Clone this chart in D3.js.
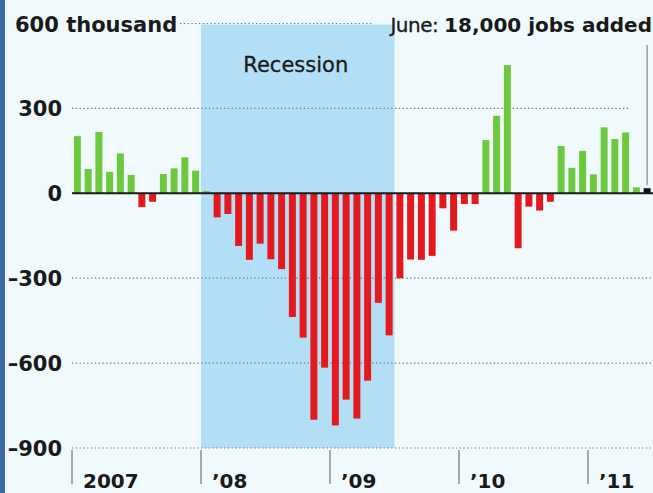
<!DOCTYPE html>
<html lang="en">
<head>
<meta charset="utf-8">
<title>Monthly job changes</title>
<script src="https://d3js.org/d3.v7.min.js"></script>
<style>
  body { margin: 0; background: #f0f9fc; }
  text { font-family: 'DejaVu Sans', sans-serif; fill: #1a1a1a; }
  .lbl { font-size: 21px; font-weight: bold; }
</style>
</head>
<body>
<div id="chart"></div>
<script>

// monthly change in payrolls, thousands, Jan 2007 - Jun 2011
var changes = [
  202, 86, 217, 76, 141, 65, -49, -30, 68, 88, 127, 80,          // 2007
  8, -85, -73, -186, -235, -178, -233, -268, -437, -510, -800, -616, // 2008
  -820, -729, -796, -662, -387, -502, -300, -234, -235, -221, -53, -132, // 2009
  -38, -38, 188, 274, 453, -194, -47, -61, -30, 167, 90, 150,    // 2010
  67, 233, 192, 215, 21, 18                                       // 2011
];
var yTicks = [600, 300, 0, -300, -600, -900];
var yearLabels = ["2007", "\u201908", "\u201909", "\u201910", "\u201911"];
var recession = ["2008-01", "2009-06"];
var highlight = "2011-06";

var fmt = d3.timeFormat("%Y-%m");
var months = d3.timeMonths(new Date(2007, 0, 1), new Date(2011, 6, 1)).map(fmt);

var w = 653, h = 493;

var svg = d3.select("#chart").append("svg")
  .attr("width", w)
  .attr("height", h);

svg.append("rect").attr("width", w).attr("height", h).attr("fill", "#f0f9fc");
svg.append("rect").attr("width", 5).attr("height", h).attr("fill", "#3a69a3");

var x = d3.scaleBand()
  .domain(months)
  .range([72, 652.5])
  .paddingInner(0.35)
  .paddingOuter(0.175);

var y = d3.scaleLinear()
  .domain([-900, 600])
  .range([448, 23.5]);

var half = (x.step() - x.bandwidth()) / 2;

// recession shading
var rx0 = x(recession[0]) - half,
    rx1 = x(recession[1]) + x.bandwidth() + half;
svg.append("rect")
  .attr("x", rx0)
  .attr("y", y(600) + 1)
  .attr("width", rx1 - rx0)
  .attr("height", y(-900) - y(600) - 1)
  .attr("fill", "#b3dff6");

svg.append("text")
  .attr("x", (rx0 + rx1) / 2 - 2)
  .attr("y", 72)
  .attr("text-anchor", "middle")
  .style("font-size", "21px")
  .style("stroke", "#1a1a1a")
  .style("stroke-width", 0.3)
  .text("Recession");

// gridlines
var gridEnd = {600: 372, 300: 630};
svg.selectAll("line.grid")
  .data(yTicks.filter(function(d) { return d != 0; }))
  .enter().append("line")
  .attr("class", "grid")
  .attr("x1", function(d) { return d == 600 ? 180 : 72; })
  .attr("x2", function(d) { return gridEnd[d] || w; })
  .attr("y1", function(d) { return y(d); })
  .attr("y2", function(d) { return y(d); })
  .attr("stroke", "#6f7a80")
  .attr("stroke-width", 1.2)
  .attr("stroke-dasharray", "1.3,2.5");

// y labels
svg.selectAll("text.ylab")
  .data(yTicks)
  .enter().append("text")
  .attr("class", "lbl ylab")
  .attr("x", function(d) { return d == 600 ? 15 : 62; })
  .attr("y", function(d) { return y(d) + 8; })
  .attr("text-anchor", function(d) { return d == 600 ? "start" : "end"; })
  .text(function(d) {
    if (d == 600) return "600 thousand";
    return d < 0 ? "\u2013" + (-d) : d;
  });

// bars
svg.selectAll("rect.bar")
  .data(changes)
  .enter().append("rect")
  .attr("class", "bar")
  .attr("x", function(d, i) { return x(months[i]); })
  .attr("width", x.bandwidth())
  .attr("y", function(d) { return y(Math.max(0, d)); })
  .attr("height", function(d) { return Math.abs(y(d) - y(0)); })
  .attr("fill", function(d, i) {
    if (months[i] == highlight) return "#111";
    return d >= 0 ? "#6cc83c" : "#e3191d";
  });

// zero line
svg.append("line")
  .attr("x1", 72).attr("x2", w)
  .attr("y1", y(0)).attr("y2", y(0))
  .attr("stroke", "#1a1a1a")
  .attr("stroke-width", 2);

// year ticks
var janMonths = months.filter(function(m) { return m.slice(5) == "01"; });
svg.selectAll("line.tick")
  .data(janMonths)
  .enter().append("line")
  .attr("class", "tick")
  .attr("x1", function(d) { return x(d) - half; })
  .attr("x2", function(d) { return x(d) - half; })
  .attr("y1", 450).attr("y2", 484)
  .attr("stroke", "#8a8f93")
  .attr("stroke-width", 1.5);

svg.selectAll("text.xlab")
  .data(janMonths)
  .enter().append("text")
  .attr("class", "lbl xlab")
  .attr("x", function(d) { return x(d) - half + 11; })
  .attr("y", 488)
  .style("font-size", "20px")
  .text(function(d, i) { return yearLabels[i]; });

// annotation for the latest month
var hx = x(highlight) + x.bandwidth() / 2;
svg.append("line")
  .attr("x1", hx).attr("x2", hx)
  .attr("y1", 45).attr("y2", y(changes[changes.length - 1]) - 3)
  .attr("stroke", "#9aa0a4")
  .attr("stroke-width", 1.5);

var note = svg.append("text")
  .attr("x", 652)
  .attr("y", 32)
  .attr("text-anchor", "end")
  .style("font-size", "20px");
note.append("tspan").style("letter-spacing", "-0.5px").style("stroke", "#1a1a1a").style("stroke-width", 0.3).text("June: ");
note.append("tspan").style("font-weight", "bold").text("18,000 jobs added");

</script>
</body>
</html>
